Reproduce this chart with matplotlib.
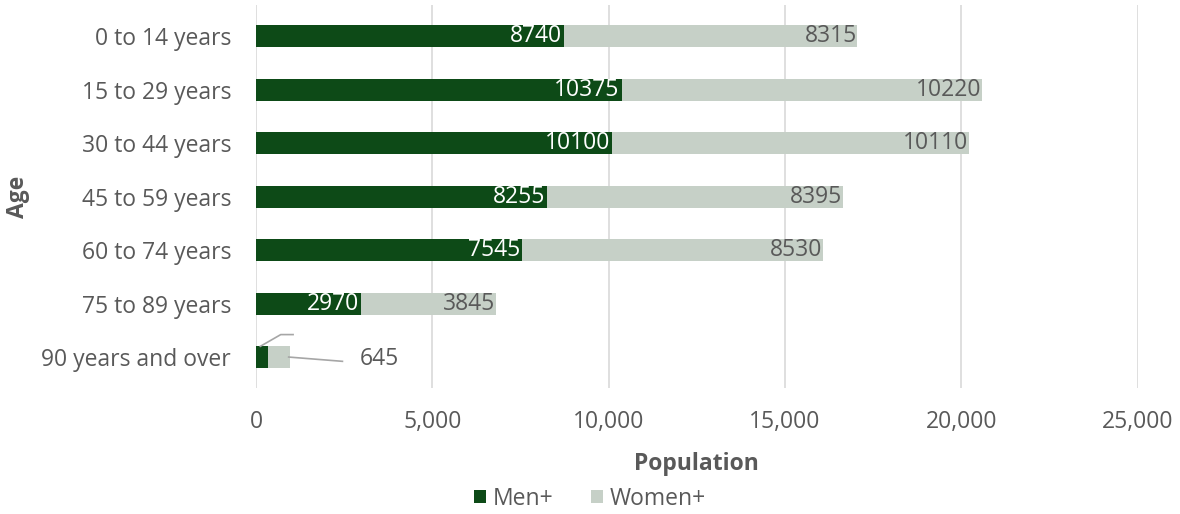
import matplotlib.pyplot as plt

plt.rcParams['font.family'] = ['Open Sans', 'DejaVu Sans']

ages = ["0 to 14 years", "15 to 29 years", "30 to 44 years", "45 to 59 years",
        "60 to 74 years", "75 to 89 years", "90 years and over"]
men = [8740, 10375, 10100, 8255, 7545, 2970, 330]
women = [8315, 10220, 10110, 8395, 8530, 3845, 645]
xticks = [0, 5000, 10000, 15000, 20000, 25000]

men_color = "#0d4a17"
women_color = "#c6d0c7"
text_color = "#595959"
fs = 16.5

fig = plt.figure(figsize=(11.8, 5.14), dpi=100)
ax = fig.add_axes([0.217, 0.245, 0.747, 0.745])

y = list(range(len(ages)))
ax.barh(y, men, height=0.41, color=men_color, label="Men+")
ax.barh(y, women, left=men, height=0.41, color=women_color, label="Women+")

# data labels, inside end
for i in range(len(ages) - 1):
    ax.text(men[i] - 60, i, str(men[i]), ha="right", va="center",
            color="white", fontsize=fs)
    ax.text(men[i] + women[i] - 20, i, str(women[i]), ha="right", va="center",
            color=text_color, fontsize=fs)

# last row: leader lines
last = len(ages) - 1
ax.plot([120, 700, 1050], [last - 0.2, last - 0.42, last - 0.42], color="#a6a6a6", lw=1.2)
ax.plot([men[last] + women[last] - 50, 2450], [last, last + 0.08], color="#a6a6a6", lw=1.2)
ax.text(2950, last + 0.04, str(women[last]), ha="left", va="center",
        color=text_color, fontsize=fs)

ax.set_xlim(0, 25000)
ax.set_ylim(len(ages) - 0.42, -0.58)
ax.set_xticks(xticks)
ax.set_xticklabels([f"{v:,}" for v in xticks])
ax.set_yticks(y)
ax.set_yticklabels(ages)
ax.grid(axis="x", color="#d9d9d9", lw=1.2)
ax.set_axisbelow(True)
for s in ax.spines.values():
    s.set_visible(False)
ax.tick_params(axis="both", length=0, labelsize=fs, labelcolor=text_color)
ax.tick_params(axis="x", pad=16)
ax.tick_params(axis="y", pad=18)

ax.set_xlabel("Population", fontsize=fs, fontweight="bold", color=text_color, labelpad=13)
ax.set_ylabel("Age", fontsize=fs, fontweight="bold", color=text_color, labelpad=8)

fig.legend(*ax.get_legend_handles_labels(), loc="center", bbox_to_anchor=(0.5, 0.03),
           ncol=2, frameon=False, fontsize=fs, handlelength=0.55, handleheight=0.55,
           handletextpad=0.3, columnspacing=1.6, labelcolor=text_color)

fig.savefig("out.png", dpi=100)
